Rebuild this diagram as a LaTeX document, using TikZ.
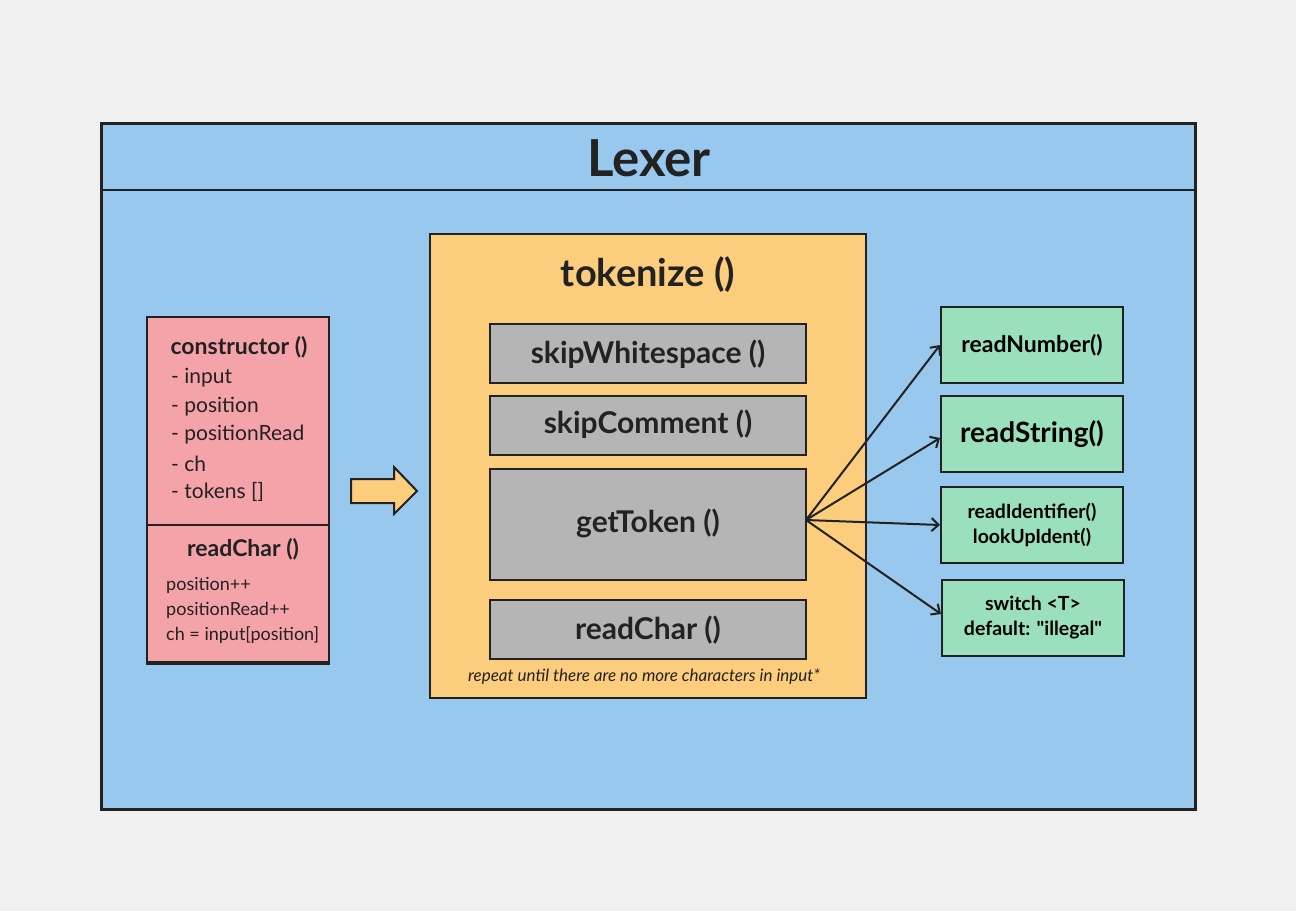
\documentclass[tikz,border=0pt]{standalone}
\usepackage{fontspec}
\setmainfont{Lato}[Ligatures=TeXOff]
\usetikzlibrary{arrows.meta}
\definecolor{bgc}{HTML}{F0F0F0}
\definecolor{bluec}{HTML}{99C8EE}
\definecolor{orangec}{HTML}{FBCD7D}
\definecolor{grayc}{HTML}{B5B5B5}
\definecolor{redc}{HTML}{F4A3A8}
\definecolor{greenc}{HTML}{9BE0BC}
\definecolor{linec}{HTML}{222222}
\tikzset{
  box/.style={draw=linec, line width=2pt, inner sep=0pt},
  graybox/.style={box, fill=grayc},
  graytext/.style={lbl, font=\bfseries\fontsize{30}{34}\selectfont},
  greenbox/.style={box, fill=greenc, align=center},
  conn/.style={draw=linec, line width=2pt, -{Straight Barb[length=7pt,width=13pt,line width=2pt]}},
  lbl/.style={text=linec, inner sep=0pt},
  item/.style={lbl, anchor=west, font=\fontsize{21}{25}\selectfont},
  ritem/.style={lbl, anchor=west, font=\fontsize{18}{21}\selectfont}
}
\begin{document}
\begin{tikzpicture}[x=1pt,y=-1pt]
\useasboundingbox (0,0) rectangle (1296,911);
\fill[bgc] (0,0) rectangle (1296,911);
% outer Lexer box
\path[box, fill=bluec, line width=3pt] (101,123) rectangle (1195,809);
\draw[linec, line width=2.5pt] (101,190) -- (1195,190);
\node[lbl, font=\bfseries\fontsize{51}{56}\selectfont] (lexer) at (649,158) {Lexer};
% tokenize box
\path[box, fill=orangec] (430,234) rectangle (866,698);
\node[lbl, font=\bfseries\fontsize{38}{42}\selectfont] (tok) at (648,275) {tokenize ()};
\path[graybox] (490,324) rectangle (806,383);
\node[graytext] (ws) at (648,354) {skipWhitespace ()};
\path[graybox] (490,396) rectangle (806,455);
\node[graytext] (sc) at (648,424) {skipComment ()};
\path[graybox] (490,469) rectangle (806,580);
\node[graytext] (gt) at (648,523) {getToken ()};
\coordinate (gtr) at (806,520);
\path[graybox] (490,600) rectangle (806,659);
\node[graytext] (rc) at (648,630) {readChar ()};
\node[lbl, font=\itshape\fontsize{17}{20}\selectfont] (rep) at (644,677) {repeat until there are no more characters in input*};
% red class box
\path[box, fill=redc] (147,317) rectangle (329,664);
\draw[linec, line width=2pt] (147,525) -- (329,525);
\draw[linec, line width=2pt] (147,662) -- (329,662);
\node[lbl, font=\bfseries\fontsize{23}{27}\selectfont] (ctor) at (239,347) {constructor ()};
\node[item] (i1) at (171,378) {- input};
\node[item] (i2) at (171,407) {- position};
\node[item] (i3) at (171,435) {- positionRead};
\node[item] (i4) at (171,464) {- ch};
\node[item] (i5) at (171,492) {- tokens []};
\node[lbl, font=\bfseries\fontsize{23}{27}\selectfont] (rch) at (243,549) {readChar ()};
\node[ritem] (r1) at (166,585) {position++};
\node[ritem] (r2) at (166,610) {positionRead++};
\node[ritem] (r3) at (166,635) {ch = input[position]};
% block arrow
\draw[linec, line width=2pt, fill=orangec, line join=miter]
  (351,479) -- (394,479) -- (394,467) -- (417,491) -- (394,514) -- (394,503) -- (351,503) -- cycle;
% green boxes
\node[greenbox, minimum width=182pt, minimum height=76pt, font=\bfseries\fontsize{23}{27}\selectfont] (rn) at (1032,345) {readNumber()};
\node[greenbox, minimum width=182pt, minimum height=76pt, font=\bfseries\fontsize{28}{32}\selectfont] (rs) at (1032,434) {readString()};
\node[greenbox, minimum width=182pt, minimum height=76pt, font=\bfseries\fontsize{19.5}{25}\selectfont] (ri) at (1032,525) {readIdentifier()\\lookUpIdent()};
\node[greenbox, minimum width=182pt, minimum height=76pt, font=\bfseries\fontsize{19.5}{25}\selectfont] (sw) at (1033,618) {switch <T>\\default: "illegal"};
% connectors
\draw[conn] (gtr) -- (rn.west);
\draw[conn] (gtr) -- ([yshift=-4pt]rs.west);
\draw[conn] (gtr) -- (ri.west);
\draw[conn] (gtr) -- ([yshift=4pt]sw.west);
\end{tikzpicture}
\end{document}
